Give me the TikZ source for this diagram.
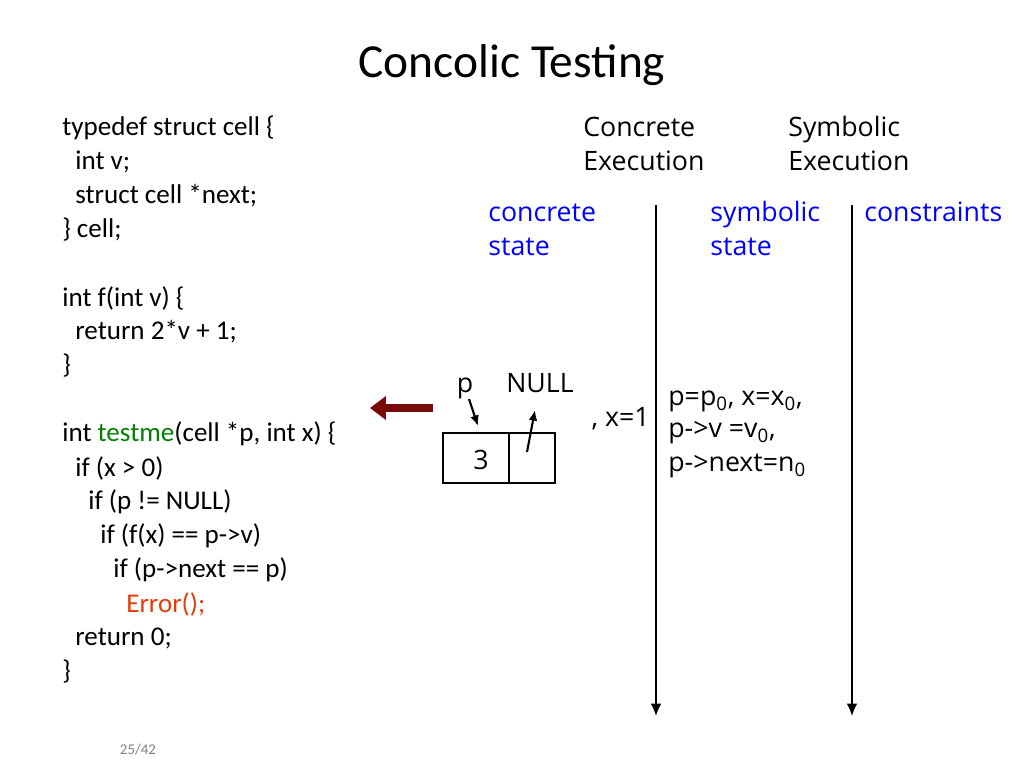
\documentclass[tikz,border=0pt]{standalone}
\usepackage{fontspec}
\setmainfont{Carlito}
\newfontfamily\osans{Open Sans}
\usetikzlibrary{arrows.meta}
\definecolor{codegreen}{RGB}{0,128,0}
\definecolor{errred}{RGB}{230,60,10}
\definecolor{darkred}{RGB}{120,10,10}
\tikzset{
  code/.style={anchor=west,inner sep=0pt,font=\fontsize{15.4}{18}\selectfont},
  txt/.style={anchor=west,inner sep=0pt,font=\osans\fontsize{15.2}{18}\selectfont},
  bluetxt/.style={txt,text=blue},
  timeline/.style={thick,-{Latex[length=7pt,width=6pt]}},
  pointer/.style={very thick,-{Latex[length=6pt,width=5pt]}}
}
\begin{document}
\begin{tikzpicture}[x=0.02cm,y=-0.02cm]
  \useasboundingbox (0,0) rectangle (1024,768);
  \node [font=\fontsize{27}{30}\selectfont] (title) at (512,65) {Concolic Testing};

  % program
  \node [code] (l1) at (62,128) {typedef struct cell \{};
  \node [code] (l2) at (75,162) {int v;};
  \node [code] (l3) at (75,196) {struct cell *next;};
  \node [code] (l4) at (62,230) {\} cell;};
  \node [code] (l5) at (62,298) {int f(int v) \{};
  \node [code] (l6) at (75,332) {return 2*v + 1;};
  \node [code] (l7) at (62,366) {\}};
  \node [code] (l8) at (62,434) {int \textcolor{codegreen}{testme}(cell *p, int x) \{};
  \node [code] (l9) at (75,468) {if (x > 0)};
  \node [code] (l10) at (88,502) {if (p != NULL)};
  \node [code] (l11) at (100,536) {if (f(x) == p->v)};
  \node [code] (l12) at (113,570) {if (p->next == p)};
  \node [code,text=errred] (l13) at (126,604) {Error();};
  \node [code] (l14) at (75,638) {return 0;};
  \node [code] (l15) at (62,672) {\}};

  % column headings
  \node [txt] (conc) at (583,130) {Concrete\strut};
  \node [txt] (concx) at (583,164) {Execution\strut};
  \node [txt] (symb) at (788,130) {Symbolic\strut};
  \node [txt] (symbx) at (788,164) {Execution\strut};
  \node [bluetxt] (cs1) at (488,215) {concrete\strut};
  \node [bluetxt] (cs2) at (488,249) {state\strut};
  \node [bluetxt] (ss1) at (710,215) {symbolic\strut};
  \node [bluetxt] (ss2) at (710,249) {state\strut};
  \node [bluetxt] (cons) at (864,215) {constraints\strut};

  % time lines
  \coordinate (t1a) at (656,205);
  \coordinate (t1b) at (656,716);
  \coordinate (t2a) at (852,205);
  \coordinate (t2b) at (852,716);
  \draw [timeline] (t1a) -- (t1b);
  \draw [timeline] (t2a) -- (t2b);

  % concrete state
  \draw [thick] (443,433) rectangle (509,483);
  \draw [thick] (509,433) rectangle (555,483);
  \node [txt,anchor=center] (three) at (481,460) {3};
  \node [txt,anchor=center] (pvar) at (465,386) {p\strut};
  \node [txt,anchor=center] (null) at (540,386) {NULL\strut};
  \draw [pointer] (469,399) -- (478,426);
  \coordinate (nptr) at (527,452);
  \draw [pointer] (nptr) -- (535,410);
  \node [txt,anchor=east] (xval) at (650,420) {, x=1\strut};

  % symbolic state
  \node [txt] (s1) at (668,399) {p=p\textsubscript{0}, x=x\textsubscript{0},\strut};
  \node [txt] (s2) at (668,431) {p->v =v\textsubscript{0},\strut};
  \node [txt] (s3) at (668,465) {p->next=n\textsubscript{0}\strut};

  \coordinate (ra) at (433,408);
  \coordinate (rb) at (370,408);
  \draw [darkred,line width=4.5pt,-{Triangle[length=9pt,width=13pt]}] (ra) -- (rb);

  \node [text=gray,font=\fontsize{8.5}{10}\selectfont] (page) at (138,750) {25/42};
\end{tikzpicture}
\end{document}
